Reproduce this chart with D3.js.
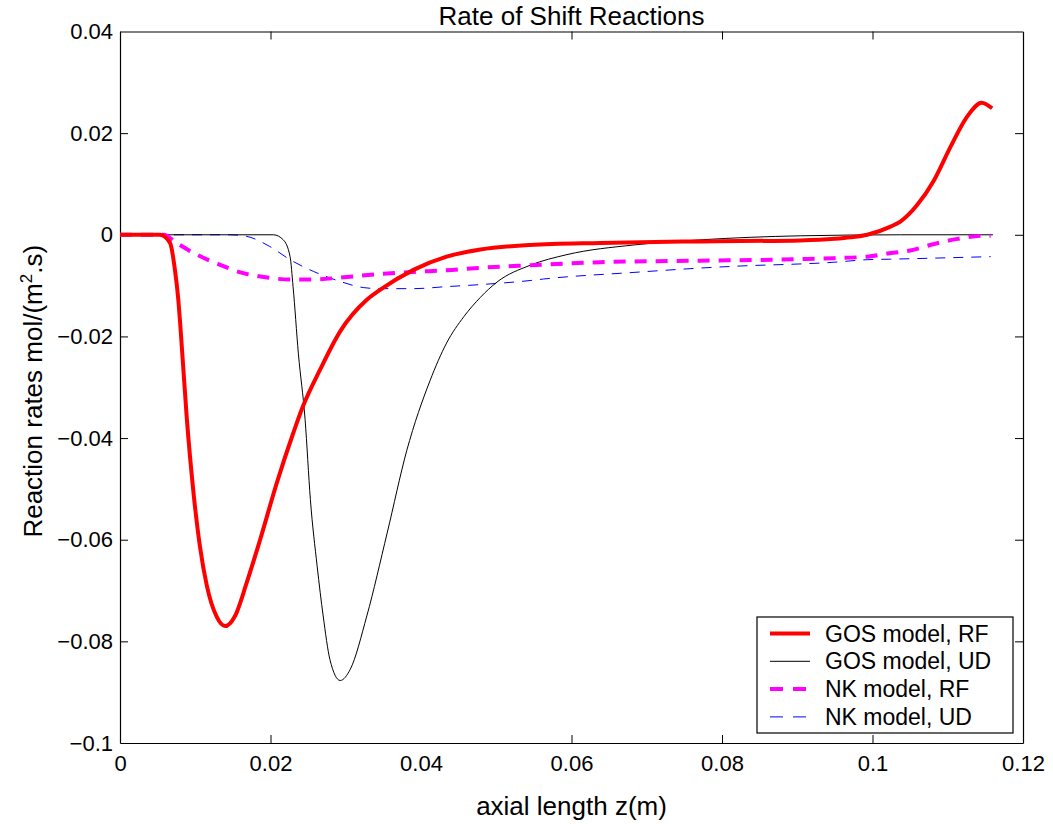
<!DOCTYPE html>
<html>
<head>
<meta charset="utf-8">
<script src="https://cdn.jsdelivr.net/npm/d3@7"></script>
<style>
  body { margin: 0; background: #fff; }
  svg text { font-family: "Liberation Sans", Arial, Helvetica, sans-serif; fill: #000; }
</style>
</head>
<body>
<div id="chart"></div>
<script>
// axial position z (m) and rate (mol/(m^2.s)) for each series
const gosRfZ = [0, 0.0053, 0.00665, 0.0073, 0.00775, 0.008, 0.00887, 0.00975, 0.01064, 0.01153, 0.01286, 0.01396, 0.01529, 0.01685, 0.01862, 0.02084, 0.02305, 0.0243, 0.0266, 0.02926, 0.0328, 0.0346, 0.039, 0.0434, 0.0479, 0.0545, 0.0638, 0.0771, 0.0904, 0.095, 0.0971, 0.0993, 0.1024, 0.1037, 0.1059, 0.1082, 0.1104, 0.1126, 0.1145, 0.1159];
const gosRfRate = [0, 0, -0.0016, -0.0069, -0.0128, -0.0175, -0.036, -0.0505, -0.0615, -0.069, -0.0752, -0.077, -0.075, -0.0684, -0.06, -0.0488, -0.0389, -0.0338, -0.0265, -0.019, -0.0128, -0.0108, -0.0069, -0.0043, -0.0029, -0.002, -0.0016, -0.0013, -0.0011, -0.0008, -0.0005, 0, 0.0016, 0.0026, 0.0058, 0.0108, 0.0174, 0.0233, 0.026, 0.0249];

const gosUdZ = [0, 0.0204, 0.0217, 0.0226, 0.023, 0.0237, 0.0246, 0.0253, 0.0262, 0.027, 0.0279, 0.02926, 0.0306, 0.0328, 0.0355, 0.0381, 0.0412, 0.0434, 0.0457, 0.0479, 0.0501, 0.0545, 0.0594, 0.0683, 0.0771, 0.0904, 0.1037, 0.116];
const gosUdRate = [0, 0, -0.001, -0.0043, -0.0102, -0.0233, -0.0364, -0.0521, -0.0652, -0.075, -0.0836, -0.0877, -0.0855, -0.075, -0.0587, -0.0425, -0.0287, -0.0213, -0.0161, -0.0123, -0.0093, -0.006, -0.0039, -0.002, -0.001, -0.0002, 0, 0];

const nkRfZ = [0, 0.0058, 0.0075, 0.0102, 0.0133, 0.016, 0.0191, 0.0226, 0.0257, 0.0301, 0.0346, 0.039, 0.0434, 0.0479, 0.0545, 0.0638, 0.0771, 0.0904, 0.0949, 0.0993, 0.102, 0.105, 0.1082, 0.1113, 0.1148, 0.1157];
const nkRfRate = [0, 0, -0.0016, -0.0039, -0.0059, -0.0074, -0.0083, -0.0088, -0.0088, -0.0083, -0.0077, -0.0073, -0.007, -0.0065, -0.006, -0.0054, -0.0051, -0.0048, -0.0046, -0.0043, -0.0037, -0.0031, -0.0018, -0.0008, -0.0002, -0.0002];

const nkUdZ = [0, 0.0146, 0.0168, 0.0199, 0.0226, 0.0257, 0.0293, 0.0324, 0.0346, 0.039, 0.0434, 0.0479, 0.0545, 0.0563, 0.0683, 0.0789, 0.0816, 0.0949, 0.0993, 0.1024, 0.1157];
const nkUdRate = [0, 0, -0.0003, -0.0023, -0.0049, -0.0072, -0.0092, -0.0104, -0.0106, -0.0106, -0.0102, -0.0098, -0.009, -0.0087, -0.0074, -0.0064, -0.0062, -0.0054, -0.0049, -0.0048, -0.0043];

const xTicks = [0, 0.02, 0.04, 0.06, 0.08, 0.1, 0.12];
const yTicks = [0.04, 0.02, 0, -0.02, -0.04, -0.06, -0.08, -0.1];
const xTickLabels = ["0", "0.02", "0.04", "0.06", "0.08", "0.1", "0.12"];
const yTickLabels = ["0.04", "0.02", "0", "\u22120.02", "\u22120.04", "\u22120.06", "\u22120.08", "\u22120.1"];

const seriesNames = ["GOS model, RF", "GOS model, UD", "NK model, RF", "NK model, UD"];

const width = 1053, height = 824;
const margin = {left: 120, right: 30, top: 31.5, bottom: 81};
const plotW = width - margin.left - margin.right;
const plotH = height - margin.top - margin.bottom;

const svg = d3.select("#chart").append("svg")
    .attr("width", width).attr("height", height);

const x = d3.scaleLinear().domain([0, 0.12]).range([margin.left, margin.left + plotW]);
const y = d3.scaleLinear().domain([-0.1, 0.04]).range([margin.top + plotH, margin.top]);

// box + inward ticks on all four sides
const tickLen = 8;
const axes = svg.append("g");
axes.append("g").attr("transform", `translate(0,${margin.top + plotH})`)
    .call(d3.axisBottom(x).tickValues(xTicks).tickSizeInner(-tickLen).tickSizeOuter(0).tickPadding(12)
        .tickFormat((d, i) => xTickLabels[i]));
axes.append("g").attr("transform", `translate(0,${margin.top})`)
    .call(d3.axisTop(x).tickValues(xTicks).tickSizeInner(-tickLen).tickSizeOuter(0).tickFormat(""));
axes.append("g").attr("transform", `translate(${margin.left},0)`)
    .call(d3.axisLeft(y).tickValues(yTicks).tickSizeInner(-tickLen).tickSizeOuter(0).tickPadding(7)
        .tickFormat((d, i) => yTickLabels[i]));
axes.append("g").attr("transform", `translate(${margin.left + plotW},0)`)
    .call(d3.axisRight(y).tickValues(yTicks).tickSizeInner(-tickLen).tickSizeOuter(0).tickFormat(""));
axes.selectAll(".domain").attr("stroke", "#000").attr("stroke-width", 1.2);
axes.selectAll(".tick line").attr("stroke", "#000").attr("stroke-width", 1);
axes.selectAll(".tick text").style("font-size", "22px");

// end ticks would sit on the box corners
axes.selectAll(".tick").filter(d => d === 0.12 || d === -0.1 || d === 0.04).select("line").remove();

const series = [
    {z: gosRfZ, r: gosRfRate, color: "#ff0000", w: 4, dash: null},
    {z: gosUdZ, r: gosUdRate, color: "#000000", w: 1, dash: null},
    {z: nkRfZ, r: nkRfRate, color: "#ff00ff", w: 4, dash: "12,9"},
    {z: nkUdZ, r: nkUdRate, color: "#0000ff", w: 1, dash: "10,8"}
];

const line = d3.line()
    .x(d => x(d[0])).y(d => y(d[1]))
    .curve(d3.curveMonotoneX);

const plot = svg.append("g");
// thin ones under, thick ones on top
[3, 1, 2, 0].forEach(i => {
    const s = series[i];
    plot.append("path")
        .datum(s.z.map((z, k) => [z, s.r[k]]))
        .attr("fill", "none")
        .attr("stroke", s.color)
        .attr("stroke-width", s.w)
        .attr("stroke-linejoin", "round")
        .attr("stroke-dasharray", s.dash)
        .attr("d", line);
});

// titles
svg.append("text")
    .attr("x", margin.left + plotW / 2).attr("y", 25)
    .attr("text-anchor", "middle").style("font-size", "26px")
    .text("Rate of Shift Reactions");

svg.append("text")
    .attr("x", margin.left + plotW / 2).attr("y", 815)
    .attr("text-anchor", "middle").style("font-size", "26px")
    .text("axial length z(m)");

const yl = svg.append("text")
    .attr("transform", `translate(42,${margin.top + plotH / 2 + 4}) rotate(-90)`)
    .attr("text-anchor", "middle").style("font-size", "26px");
yl.append("tspan").text("Reaction rates mol/(m");
yl.append("tspan").attr("dy", -10).style("font-size", "17px").text("2");
yl.append("tspan").attr("dy", 10).text(".s)");

// legend
const legend = svg.append("g").attr("transform", "translate(757,617)");
legend.append("rect")
    .attr("width", 256).attr("height", 116)
    .attr("fill", "#fff").attr("stroke", "#000").attr("stroke-width", 1.2);
series.forEach((s, i) => {
    const row = legend.append("g").attr("transform", `translate(0,${16.5 + i * 27.8})`);
    row.append("line")
        .attr("x1", 13).attr("x2", 53).attr("y1", 0).attr("y2", 0)
        .attr("stroke", s.color).attr("stroke-width", s.w)
        .attr("stroke-dasharray", s.dash ? "13,10" : null);
    row.append("text")
        .attr("x", 68).attr("y", 8)
        .style("font-size", "23px")
        .text(seriesNames[i]);
});
</script>
</body>
</html>
